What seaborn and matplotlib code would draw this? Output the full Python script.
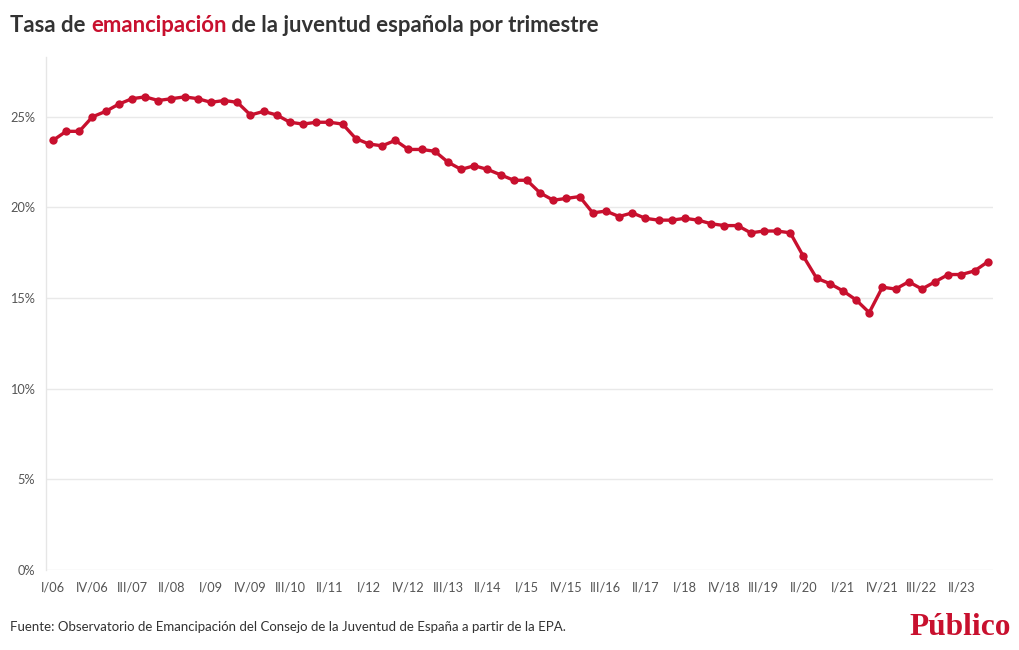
import matplotlib
matplotlib.use("Agg")
import matplotlib.pyplot as plt
import seaborn as sns
import pandas as pd
import numpy as np
from matplotlib.ticker import FixedLocator, FuncFormatter

# ---- data ----
roman = ["I", "II", "III", "IV"]
years = list(range(2006, 2024))
quarters = [f"{roman[q]}/{str(y)[2:]}" for y in years for q in range(4)]

rate = [23.7, 24.2, 24.2, 25.0, 25.3, 25.7, 26.0, 26.1, 25.9, 26.0,
        26.1, 26.0, 25.8, 25.9, 25.8, 25.1, 25.3, 25.1, 24.7, 24.6,
        24.7, 24.7, 24.6, 23.8, 23.5, 23.4, 23.7, 23.2, 23.2, 23.1,
        22.5, 22.1, 22.3, 22.1, 21.8, 21.5, 21.5, 20.8, 20.4, 20.5,
        20.6, 19.7, 19.8, 19.5, 19.7, 19.4, 19.3, 19.3, 19.4, 19.3,
        19.1, 19.0, 19.0, 18.6, 18.7, 18.7, 18.6, 17.3, 16.1, 15.8,
        15.4, 14.9, 14.2, 15.6, 15.5, 15.9, 15.5, 15.9, 16.3, 16.3,
        16.5, 17.0]

yticks = [0, 5, 10, 15, 20, 25]

df = pd.DataFrame({"idx": np.arange(len(rate)), "trimestre": quarters, "tasa": rate})

RED = "#c8102e"
GRAY = "#555555"
GRID = "#e9e9e9"

sns.set_theme(style="white")
plt.rcParams["font.family"] = ["Lato", "DejaVu Sans"]

W, H = 1020, 650
fig = plt.figure(figsize=(W / 100, H / 100), dpi=100)
ax = fig.add_axes([46 / W, 1 - 570 / H, (993 - 46) / W, (570 - 57) / H])

sns.lineplot(data=df, x="idx", y="tasa", ax=ax, color=RED, linewidth=2.4,
             marker="o", markersize=6, markeredgewidth=0, markeredgecolor=RED)

ax.set_xlim(-0.53, 71.4)
ax.set_ylim(0, 28.3)
ax.set_xlabel("")
ax.set_ylabel("")

ax.yaxis.set_major_locator(FixedLocator(yticks))
ax.yaxis.set_major_formatter(FuncFormatter(lambda v, p: f"{v:.0f}%"))
ax.grid(axis="y", color=GRID, linewidth=1)
ax.set_axisbelow(True)

major = list(range(0, len(quarters), 3))
ax.set_xticks(major)
ax.set_xticklabels([quarters[i] for i in major])
ax.set_xticks(range(len(quarters)), minor=True)
ax.tick_params(axis="x", which="both", length=6, color="#e6e6e6", width=1,
               labelsize=9.2, labelcolor=GRAY, pad=2)
ax.tick_params(axis="y", length=0, labelsize=9.2, labelcolor=GRAY, pad=8)

for s in ["top", "right", "bottom"]:
    ax.spines[s].set_visible(False)
ax.spines["left"].set_color("#e6e6e6")
ax.spines["left"].set_linewidth(1)

# ---- title with coloured word ----
fig.canvas.draw()
renderer = fig.canvas.get_renderer()


def runs(parts, x0, y_base, size, weight, family, target=None):
    def place(sz):
        texts = []
        x = x0
        for txt, col in parts:
            t = fig.text(x / W, 1 - y_base / H, txt, color=col, fontsize=sz,
                         fontweight=weight, family=family, va="baseline", ha="left")
            bb = t.get_window_extent(renderer)
            x += bb.width
            texts.append(t)
        return texts, x - x0
    texts, width = place(size)
    if target:
        for t in texts:
            t.remove()
        texts, width = place(size * target / width)
    return texts


runs([("Tasa de ", "#333333"), ("emancipación", RED),
      (" de la juventud española por trimestre", "#333333")],
     10, 32, 16, "bold", ["Lato", "DejaVu Sans"], target=592)

runs([("Fuente: Observatorio de Emancipación del Consejo de la Juventud de España a partir de la EPA.", "#333333")],
     10, 631, 9.5, "normal", ["Lato", "DejaVu Sans"], target=556)

runs([("Público", RED)], 909, 635, 18, "bold", ["Liberation Serif", "DejaVu Serif"], target=101)

fig.savefig("out.png", dpi=100, facecolor="white")
